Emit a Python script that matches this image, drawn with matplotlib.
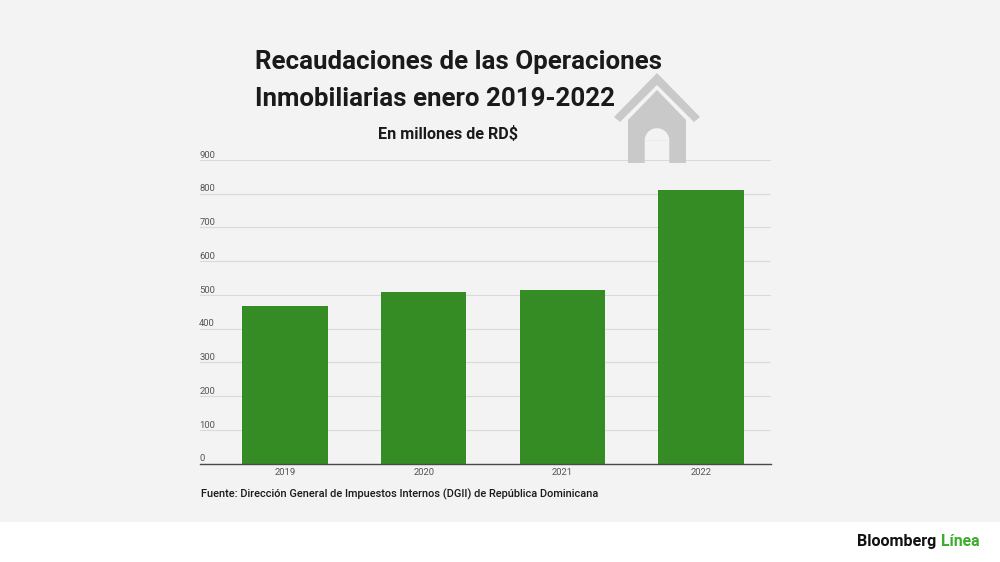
import matplotlib
matplotlib.use("Agg")
import matplotlib.pyplot as plt
from matplotlib.patches import Polygon, Rectangle, Wedge

years = ["2019", "2020", "2021", "2022"]
values = [467, 508, 515, 811]
yticks = [0, 100, 200, 300, 400, 500, 600, 700, 800, 900]

plt.rcParams['font.family'] = ['Roboto', 'DejaVu Sans']

W, H = 1000, 562
bg = "#f3f3f3"
green = "#368c24"
house = "#c9c9c9"

fig = plt.figure(figsize=(10, 5.62), dpi=100, facecolor="white")

# overlay in pixel coordinates for the band, house and texts
back = fig.add_axes([0, 0, 1, 1], zorder=0)
back.set_xlim(0, W)
back.set_ylim(H, 0)
back.axis("off")
back.add_patch(Rectangle((0, 0), W, 522, facecolor=bg, edgecolor="none"))

ax = fig.add_axes([200 / W, 1 - 463.5 / H, 571 / W, 303.5 / H], zorder=1)
ax.patch.set_alpha(0)
x = list(range(len(years)))
ax.bar(x, values, width=0.615, color=green, zorder=3)
ax.set_xlim(-0.613, 3.505)
ax.set_ylim(0, 900)
ax.set_xticks(x)
ax.set_xticklabels(years, fontsize=6.8, color="#555555")
ax.set_yticks(yticks)
ax.set_yticklabels([])
ax.tick_params(length=0)
ax.tick_params(axis="x", pad=3.5)
ax.grid(axis="y", color="#dadada", linewidth=0.8, zorder=1)
ax.set_axisbelow(True)
for s in ["top", "left", "right"]:
    ax.spines[s].set_visible(False)
ax.spines["bottom"].set_color("#4a4a4a")
ax.spines["bottom"].set_linewidth(1.0)
ax.spines["bottom"].set_zorder(4)

# y labels sit just above their gridlines
for v in yticks:
    ax.annotate(str(v), (0, v), xycoords=("axes fraction", "data"), xytext=(-0.5, 0.2),
                textcoords="offset points", fontsize=6.8, color="#555555", ha="left", va="bottom")

top = fig.add_axes([0, 0, 1, 1], zorder=2)
top.set_xlim(0, W)
top.set_ylim(H, 0)
top.axis("off")
top.patch.set_alpha(0)

# house icon
top.add_patch(Polygon([(614, 117), (657, 73), (700, 117), (694, 122), (657, 85), (620, 122)],
                      facecolor=house, edgecolor="none"))
top.add_patch(Polygon([(628, 120), (657, 90), (686, 120), (686, 163), (669.3, 163), (669.3, 140.3),
                       (644.7, 140.3), (644.7, 163), (628, 163)], facecolor=house, edgecolor="none"))
top.add_patch(Wedge((657, 140.5), 12.3, 180, 360, facecolor=bg, edgecolor="none"))

top.text(255, 61.5, "Recaudaciones de las Operaciones", fontsize=18.6, fontweight="bold",
         color="#1a1a1a", va="center", ha="left")
top.text(255, 99, "Inmobiliarias enero 2019-2022", fontsize=18.6, fontweight="bold",
         color="#1a1a1a", va="center", ha="left")
top.text(447.5, 134, "En millones de RD$", fontsize=11.6, fontweight="bold",
         color="#1a1a1a", va="center", ha="center")
top.text(201, 494.5, "Fuente: Dirección General de Impuestos Internos (DGII) de República Dominicana",
         fontsize=7.88, fontweight="medium", color="#1a1a1a", va="center", ha="left")

# logo
top.text(857, 541.5, "Bloomberg", fontsize=11.6, fontweight="bold", color="#111111",
         va="center", ha="left")
top.text(941.5, 541.5, "Línea", fontsize=11.3, fontweight="bold", color="#3aae2a",
         va="center", ha="left")

fig.savefig("out.png", dpi=100, facecolor="white")
